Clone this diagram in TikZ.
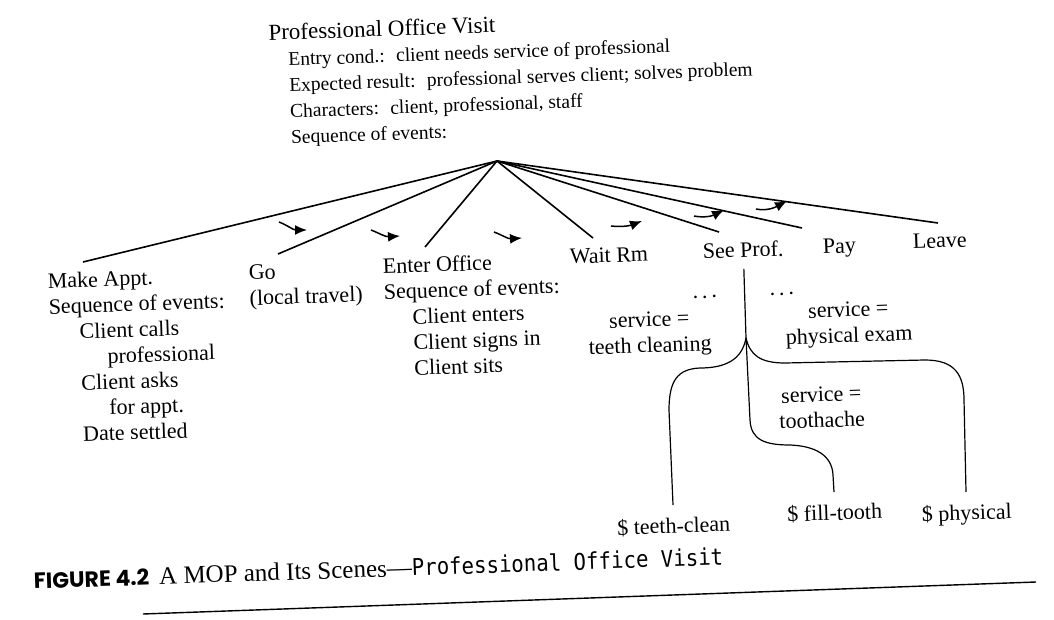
\documentclass[tikz,border=0pt]{standalone}
\usepackage{fontspec}
\setmainfont{Liberation Serif}
\newfontfamily\figsans{Poppins}
\newfontfamily\figmono{DejaVu Sans Mono}[FakeStretch=0.9]
\usetikzlibrary{arrows.meta}

\tikzset{
  every node/.style={rotate=2, inner sep=0pt, font=\fontsize{22}{25.7}\selectfont},
  scene/.style={anchor=north west, align=left, inner ysep=11pt},
  service/.style={anchor=north, align=center},
  leaf/.style={anchor=north, inner ysep=12pt},
  branch/.style={line width=1.6pt},
  tree/.style={line width=1.2pt},
  seqarrow/.style={line width=1.5pt, -{Latex[length=12pt,width=10pt]}}
}

\begin{document}
\begin{tikzpicture}[x=1pt, y=-1pt]
    \useasboundingbox (0,0) rectangle (1054,620);

    % the MOP
    \node[anchor=north west, align=left, font=\fontsize{19.5}{26}\selectfont] (mop) at (268,24)
        {{\fontsize{23}{26}\selectfont Professional Office Visit}\\
        \hspace*{19pt}Entry cond.:~ client needs service of professional\\
        \hspace*{19pt}Expected result:~ professional serves client; solves problem\\
        \hspace*{19pt}Characters:~ client, professional, staff\\
        \hspace*{19pt}Sequence of events:};
    \coordinate (root) at (497,161);

    % scenes
    \node[scene] (make) at (47,262) {Make Appt.\\Sequence of events:\\
        \hspace*{30pt}Client calls\\ \hspace*{57pt}professional\\
        \hspace*{30pt}Client asks\\ \hspace*{57pt}for appt.\\
        \hspace*{30pt}Date settled};
    \node[scene] (go) at (248,254) {Go\\(local travel)};
    \node[scene] (enter) at (382,247) {Enter Office\\Sequence of events:\\
        \hspace*{28pt}Client enters\\ \hspace*{28pt}Client signs in\\
        \hspace*{28pt}Client sits};
    \node[scene] (wait) at (569,238) {Wait Rm};
    \node[scene] (see) at (702,232) {See Prof.};
    \node[scene] (pay) at (822,228) {Pay};
    \node[scene] (leave) at (912,223) {Leave};

    \draw[branch] (root) -- ([xshift=36pt]make.north west);
    \draw[branch] (root) -- ([xshift=30pt]go.north west);
    \draw[branch] (root) -- ([xshift=43pt]enter.north west);
    \draw[branch] (root) -- ([xshift=24pt]wait.north west);
    \draw[branch] (root) -- ([xshift=17pt]see.north west);
    \draw[branch] (root) -- ([xshift=-20pt]pay.north west);
    \draw[branch] (root) -- ([xshift=26pt]leave.north west);

    % order of the scenes
    \draw[seqarrow] (279,222) .. controls (287,225) and (293,230) .. (307,230);
    \draw[seqarrow] (371,230) .. controls (379,233) and (385,237) .. (400,236);
    \draw[seqarrow] (494,232) .. controls (502,235) and (508,239) .. (522,238);
    \draw[seqarrow] (611,226) .. controls (621,227) and (629,226) .. (642,221);
    \draw[seqarrow] (694,216) .. controls (704,218) and (712,216) .. (724,210);
    \draw[seqarrow] (756,209) .. controls (766,211) and (774,208) .. (787,201);

    % specializations of See Prof.
    \node[anchor=base] (dotsL) at (705,298) {.\hspace{4pt}.\hspace{4pt}.};
    \node[anchor=base] (dotsR) at (782,295) {.\hspace{4pt}.\hspace{4pt}.};
    \coordinate (fork) at (746,338);
    \draw[tree] (see.south) -- (fork);
    \node[service] (svcClean) at (649,312) {service =\\teeth cleaning};
    \node[service] (svcPhys) at (848,302) {service =\\physical exam};
    \node[service] (svcTooth) at (821,387) {service =\\toothache};
    \node[leaf] (tclean) at (673,505) {\$ teeth-clean};
    \node[leaf] (ftooth) at (834,492) {\$ fill-tooth};
    \node[leaf] (phys) at (966,492) {\$ physical};
    \draw[tree] (fork) .. controls (742,360) and (725,368) .. (700,368)
        .. controls (678,369) and (669,380) .. (669,410) -- (tclean.north);
    \draw[tree] (fork) -- (750,420) .. controls (751,440) and (765,445) .. (790,445)
        .. controls (815,446) and (832,455) .. (833,475) -- (ftooth.north);
    \draw[tree] (fork) .. controls (750,355) and (760,363) .. (785,363) -- (925,360)
        .. controls (955,360) and (964,375) .. (964,400) -- (phys.north);

    % caption
    \node[anchor=base west] (caption) at (34,589) {{\figsans\bfseries FIGURE 4.2}\hspace{10pt}{\fontsize{25}{30}\selectfont A MOP and Its Scenes—}{\fontsize{23}{28}\figmono Professional Office Visit}};
    \draw[line width=1.4pt] (143,614) -- (1036,582);
\end{tikzpicture}
\end{document}
